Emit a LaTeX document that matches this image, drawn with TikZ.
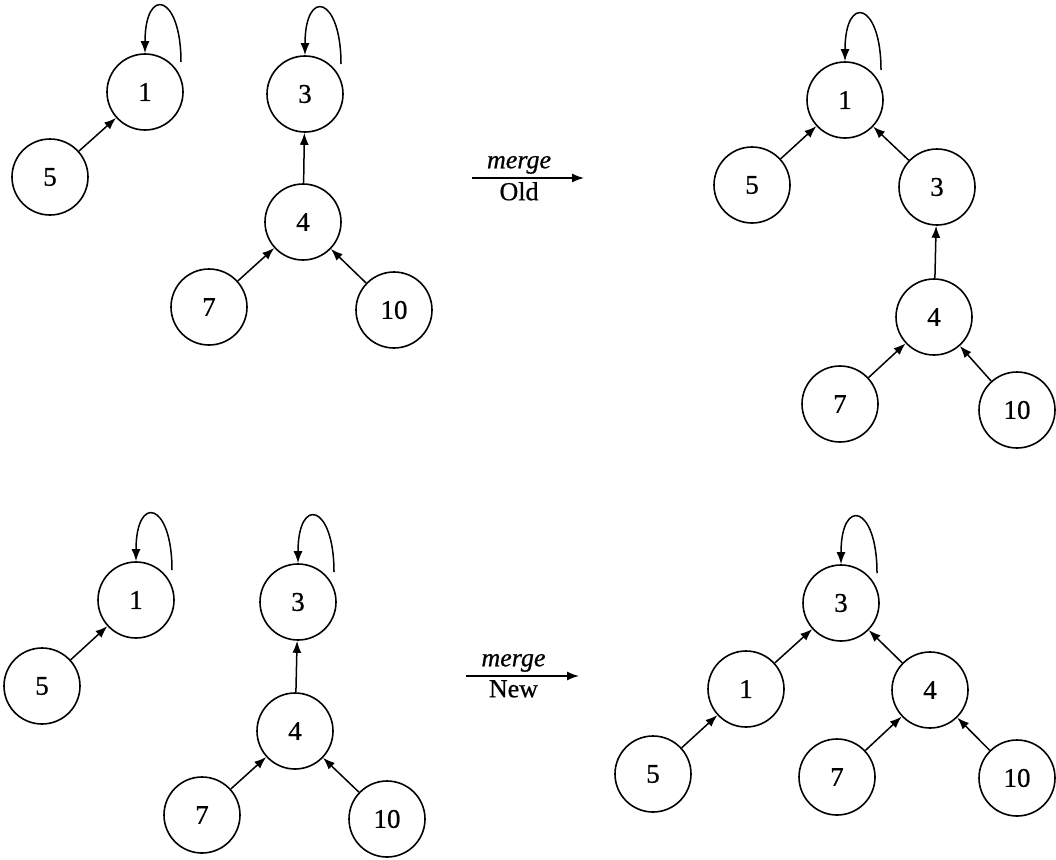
\documentclass[tikz,border=0pt]{standalone}
\usepackage{fontspec}
\setmainfont{Liberation Serif}
\newfontfamily\scanfont{Liberation Serif}[FakeBold=0.7]
\usetikzlibrary{arrows.meta,calc}
\begin{document}
\begin{tikzpicture}[x=1pt,y=1pt,
  vtx/.style={circle,draw,line width=1.6pt,minimum size=76pt,inner sep=0pt,font=\scanfont\fontsize{27}{30}\selectfont},
  arr/.style={line width=1.5pt,-{Latex[length=12pt,width=9pt]}},
  lbl/.style={font=\scanfont\fontsize{26}{30}\selectfont,inner sep=4pt}]
\useasboundingbox (0,0) rectangle (1056,-859);
% top left
\node[vtx] (a1) at (145,-92) {1};
\node[vtx] (a5) at (50,-177) {5};
\node[vtx] (a3) at (305,-94) {3};
\node[vtx] (a4) at (303,-222) {4};
\node[vtx] (a7) at (209,-307) {7};
\node[vtx] (a10) at (394,-310) {10};
\draw[arr] (a5) -- (a1);
\draw[arr] (a4) -- (a3);
\draw[arr] (a7) -- (a4);
\draw[arr] (a10) -- (a4);
\draw[arr] ($(a1)+(36,30)$) .. controls +(0,68) and +(0,68) .. (a1.north);
\draw[arr] ($(a3)+(36,30)$) .. controls +(0,68) and +(0,68) .. (a3.north);
% top arrow
\coordinate (m1s) at (472,-178);
\coordinate (m1e) at (584,-178);
\draw[arr] (m1s) -- (m1e);
\node[lbl,above] (m1t) at ($(m1s)!0.42!(m1e)$) {\itshape merge};
\node[lbl,below] (m1b) at ($(m1s)!0.42!(m1e)$) {Old};
% top right
\node[vtx] (b1) at (845,-100) {1};
\node[vtx] (b5) at (752,-185) {5};
\node[vtx] (b3) at (937,-187) {3};
\node[vtx] (b4) at (934,-317) {4};
\node[vtx] (b7) at (840,-404) {7};
\node[vtx] (b10) at (1017,-410) {10};
\draw[arr] (b5) -- (b1);
\draw[arr] (b3) -- (b1);
\draw[arr] (b4) -- (b3);
\draw[arr] (b7) -- (b4);
\draw[arr] (b10) -- (b4);
\draw[arr] ($(b1)+(36,30)$) .. controls +(0,68) and +(0,68) .. (b1.north);
% bottom left
\node[vtx] (c1) at (136,-600) {1};
\node[vtx] (c5) at (42,-686) {5};
\node[vtx] (c3) at (298,-602) {3};
\node[vtx] (c4) at (295,-731) {4};
\node[vtx] (c7) at (202,-815) {7};
\node[vtx] (c10) at (387,-819) {10};
\draw[arr] (c5) -- (c1);
\draw[arr] (c4) -- (c3);
\draw[arr] (c7) -- (c4);
\draw[arr] (c10) -- (c4);
\draw[arr] ($(c1)+(36,30)$) .. controls +(0,68) and +(0,68) .. (c1.north);
\draw[arr] ($(c3)+(36,30)$) .. controls +(0,68) and +(0,68) .. (c3.north);
% bottom arrow
\coordinate (m2s) at (466,-676);
\coordinate (m2e) at (579,-676);
\draw[arr] (m2s) -- (m2e);
\node[lbl,above] (m2t) at ($(m2s)!0.42!(m2e)$) {\itshape merge};
\node[lbl,below] (m2b) at ($(m2s)!0.42!(m2e)$) {New};
% bottom right
\node[vtx] (d3) at (841,-603) {3};
\node[vtx] (d1) at (746,-689) {1};
\node[vtx] (d4) at (930,-690) {4};
\node[vtx] (d5) at (653,-774) {5};
\node[vtx] (d7) at (837,-777) {7};
\node[vtx] (d10) at (1017,-778) {10};
\draw[arr] (d1) -- (d3);
\draw[arr] (d4) -- (d3);
\draw[arr] (d5) -- (d1);
\draw[arr] (d7) -- (d4);
\draw[arr] (d10) -- (d4);
\draw[arr] ($(d3)+(36,30)$) .. controls +(0,68) and +(0,68) .. (d3.north);
\end{tikzpicture}
\end{document}
